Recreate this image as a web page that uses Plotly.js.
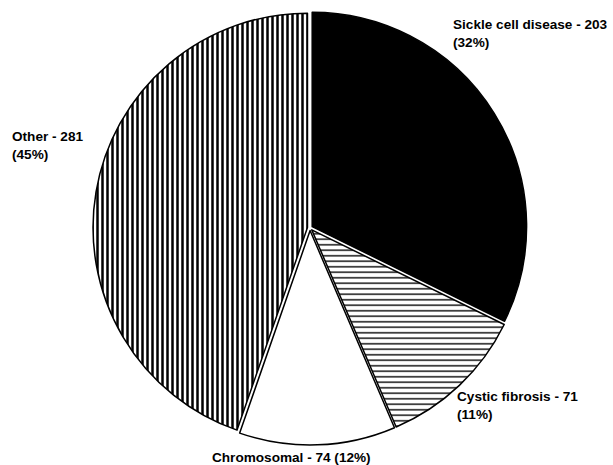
<!DOCTYPE html>
<html>
<head>
<meta charset="utf-8">
<script src="https://cdn.plot.ly/plotly-3.0.1.min.js"></script>
<style>
  html, body { margin: 0; padding: 0; background: #fff; }
  #chart { width: 613px; height: 465px; }
</style>
</head>
<body>
<div id="chart"></div>
<script>
// Conditions, in clockwise order from 12 o'clock
const categories = ['Sickle cell disease', 'Cystic fibrosis', 'Chromosomal', 'Other'];
const counts = [203, 71, 74, 281];
const fills = ['#000000', '#ffffff', '#ffffff', '#ffffff'];
const hatches = ['', '-', '', '|'];

const total = counts.reduce((a, b) => a + b, 0);
const pct = counts.map(v => Math.round(100 * v / total));

const W = 613, H = 465;
const M = { l: 93, r: 86, t: 11, b: 20 };
const plotW = W - M.l - M.r, plotH = H - M.t - M.b;

// Label layout in pixels: [x, y (middle), xanchor, separator between name/count and percent]
const labelPos = [
  [451, 33.5, 'left', '<br>'],
  [455, 405, 'left', '<br>'],
  [291.5, 457.5, 'center', ' '],
  [10, 145.5, 'left', '<br>']
];

const annotations = categories.map((c, i) => {
  const p = labelPos[i];
  return {
    xref: 'paper', yref: 'paper',
    x: (p[0] - M.l) / plotW,
    y: (H - M.b - p[1]) / plotH,
    xanchor: p[2], yanchor: 'middle', align: p[2],
    showarrow: false,
    text: '<b>' + c + ' - ' + counts[i] + p[3] + '(' + pct[i] + '%)</b>',
    font: { family: 'Liberation Sans, Arial, sans-serif', size: 13.6, color: '#000' }
  };
});

const trace = {
  type: 'pie',
  labels: categories,
  values: counts,
  sort: false,
  direction: 'clockwise',
  rotation: 0,
  pull: [0.012, 0.012, 0.012, 0.012],
  textinfo: 'none',
  hoverinfo: 'label+value+percent',
  marker: {
    colors: fills,
    line: { color: '#000', width: 1.5 },
    pattern: {
      shape: hatches,
      fgcolor: '#000',
      bgcolor: '#fff',
      size: [5, 5.5, 5, 5],
      solidity: [0.3, 0.25, 0.3, 0.5]
    }
  }
};

const layout = {
  width: W, height: H,
  margin: M,
  showlegend: false,
  paper_bgcolor: '#fff',
  plot_bgcolor: '#fff',
  annotations: annotations
};

Plotly.newPlot('chart', [trace], layout, { displayModeBar: false, staticPlot: true });
</script>
</body>
</html>
